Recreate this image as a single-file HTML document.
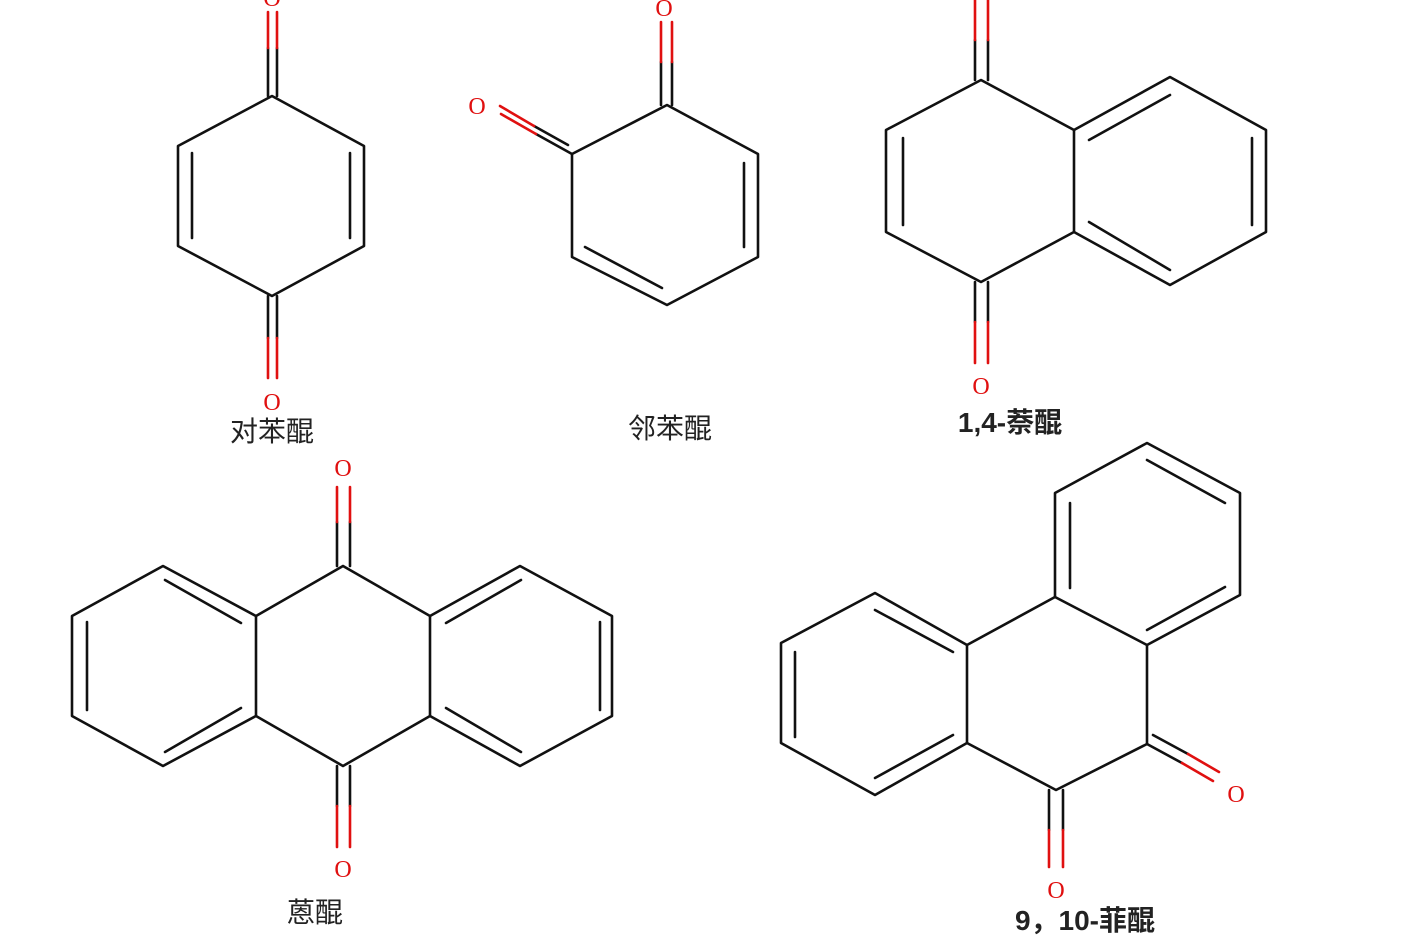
<!DOCTYPE html>
<html><head><meta charset="utf-8"><style>
html,body{margin:0;padding:0;background:#fff;width:1406px;height:937px;overflow:hidden}
svg{display:block}
.b{stroke:#111;stroke-width:2.6;fill:none;stroke-linecap:round;stroke-linejoin:round}
.r{stroke:#e01010;stroke-width:2.6;fill:none;stroke-linecap:round}
.o{fill:#e01010;font-family:"Liberation Serif",serif;font-size:24px;text-anchor:middle}
.t{fill:#222;font-family:"Liberation Sans","Noto Sans CJK SC",sans-serif;font-size:28px;text-anchor:middle}
.tb{font-weight:bold}
</style></head><body>
<svg width="1406" height="937" viewBox="0 0 1406 937">
<!-- para-benzoquinone -->
<path class="b" d="M272,96 L364,146 L364,246 L272,296 L178,246 L178,146 Z"/>
<path class="b" d="M192,153 V238 M350,153 V238"/>
<path class="b" d="M268,96 V48 M277,96 V48 M268,296 V338 M277,296 V338"/>
<path class="r" d="M268,48 V12 M277,48 V12 M268,338 V378 M277,338 V378"/>
<text class="o" x="272" y="6">O</text>
<text class="o" x="272" y="410">O</text>
<text class="t" x="272" y="441">对苯醌</text>

<!-- ortho-benzoquinone -->
<path class="b" d="M667,105 L758,154 L758,257 L667,305 L572,257 L572,154 Z"/>
<path class="b" d="M744,163 V247 M585,247 L662,288"/>
<path class="b" d="M661,105 V62 M672,105 V62"/>
<path class="r" d="M661,62 V22 M672,62 V22"/>
<text class="o" x="664" y="16">O</text>
<path class="b" d="M572,154 L536,134 M568,145 L534,126"/>
<path class="r" d="M536,134 L501,114 M534,126 L500,106"/>
<text class="o" x="477" y="114">O</text>
<text class="t" x="670" y="438">邻苯醌</text>

<!-- 1,4-naphthoquinone -->
<path class="b" d="M981,80 L1074,130 L1074,232 L981,282 L886,232 L886,130 Z"/>
<path class="b" d="M1074,130 L1170,77 L1266,130 L1266,232 L1170,285 L1074,232"/>
<path class="b" d="M903,138 V225 M1252,138 V225 M1089,140 L1170,95 M1089,222 L1170,270"/>
<path class="b" d="M975,80 V40 M988,80 V40 M975,282 V322 M988,282 V322"/>
<path class="r" d="M975,40 V0 M988,40 V0 M975,322 V363 M988,322 V363"/>
<text class="o" x="981" y="394">O</text>
<text class="t tb" x="1010" y="432">1,4-萘醌</text>

<!-- anthraquinone -->
<path class="b" d="M343,566 L430,616 L430,716 L343,766 L256,716 L256,616 Z"/>
<path class="b" d="M256,616 L163,566 L72,616 L72,716 L163,766 L256,716"/>
<path class="b" d="M430,616 L520,566 L612,616 L612,716 L520,766 L430,716"/>
<path class="b" d="M87,622 V710 M165,580 L241,623 M241,708 L165,752 M600,622 V710 M446,623 L521,580 M446,708 L521,752"/>
<path class="b" d="M337,566 V522 M350,566 V522 M337,766 V806 M350,766 V806"/>
<path class="r" d="M337,522 V487 M350,522 V487 M337,806 V847 M350,806 V847"/>
<text class="o" x="343" y="476">O</text>
<text class="o" x="343" y="877">O</text>
<text class="t" x="315" y="922">蒽醌</text>

<!-- 9,10-phenanthrenequinone -->
<path class="b" d="M1147,443 L1240,493 L1240,595 L1147,645 L1055,597 L1055,493 Z"/>
<path class="b" d="M1055,597 L967,645 L967,743 L1056,790 L1147,744 L1147,645"/>
<path class="b" d="M967,645 L875,593 L781,643 L781,743 L875,795 L967,743"/>
<path class="b" d="M1070,503 V588 M1147,460 L1225,503 M1147,630 L1225,587 M795,652 V737 M875,610 L953,652 M953,735 L875,778"/>
<path class="b" d="M1049,790 V830 M1063,790 V830"/>
<path class="r" d="M1049,830 V867 M1063,830 V867"/>
<text class="o" x="1056" y="898">O</text>
<path class="b" d="M1147,744 L1182,763 M1153,735 L1188,754"/>
<path class="r" d="M1182,763 L1213,781 M1188,754 L1219,772"/>
<text class="o" x="1236" y="802">O</text>
<text class="t tb" x="1085" y="930">9，10-菲醌</text>
</svg>
</body></html>
